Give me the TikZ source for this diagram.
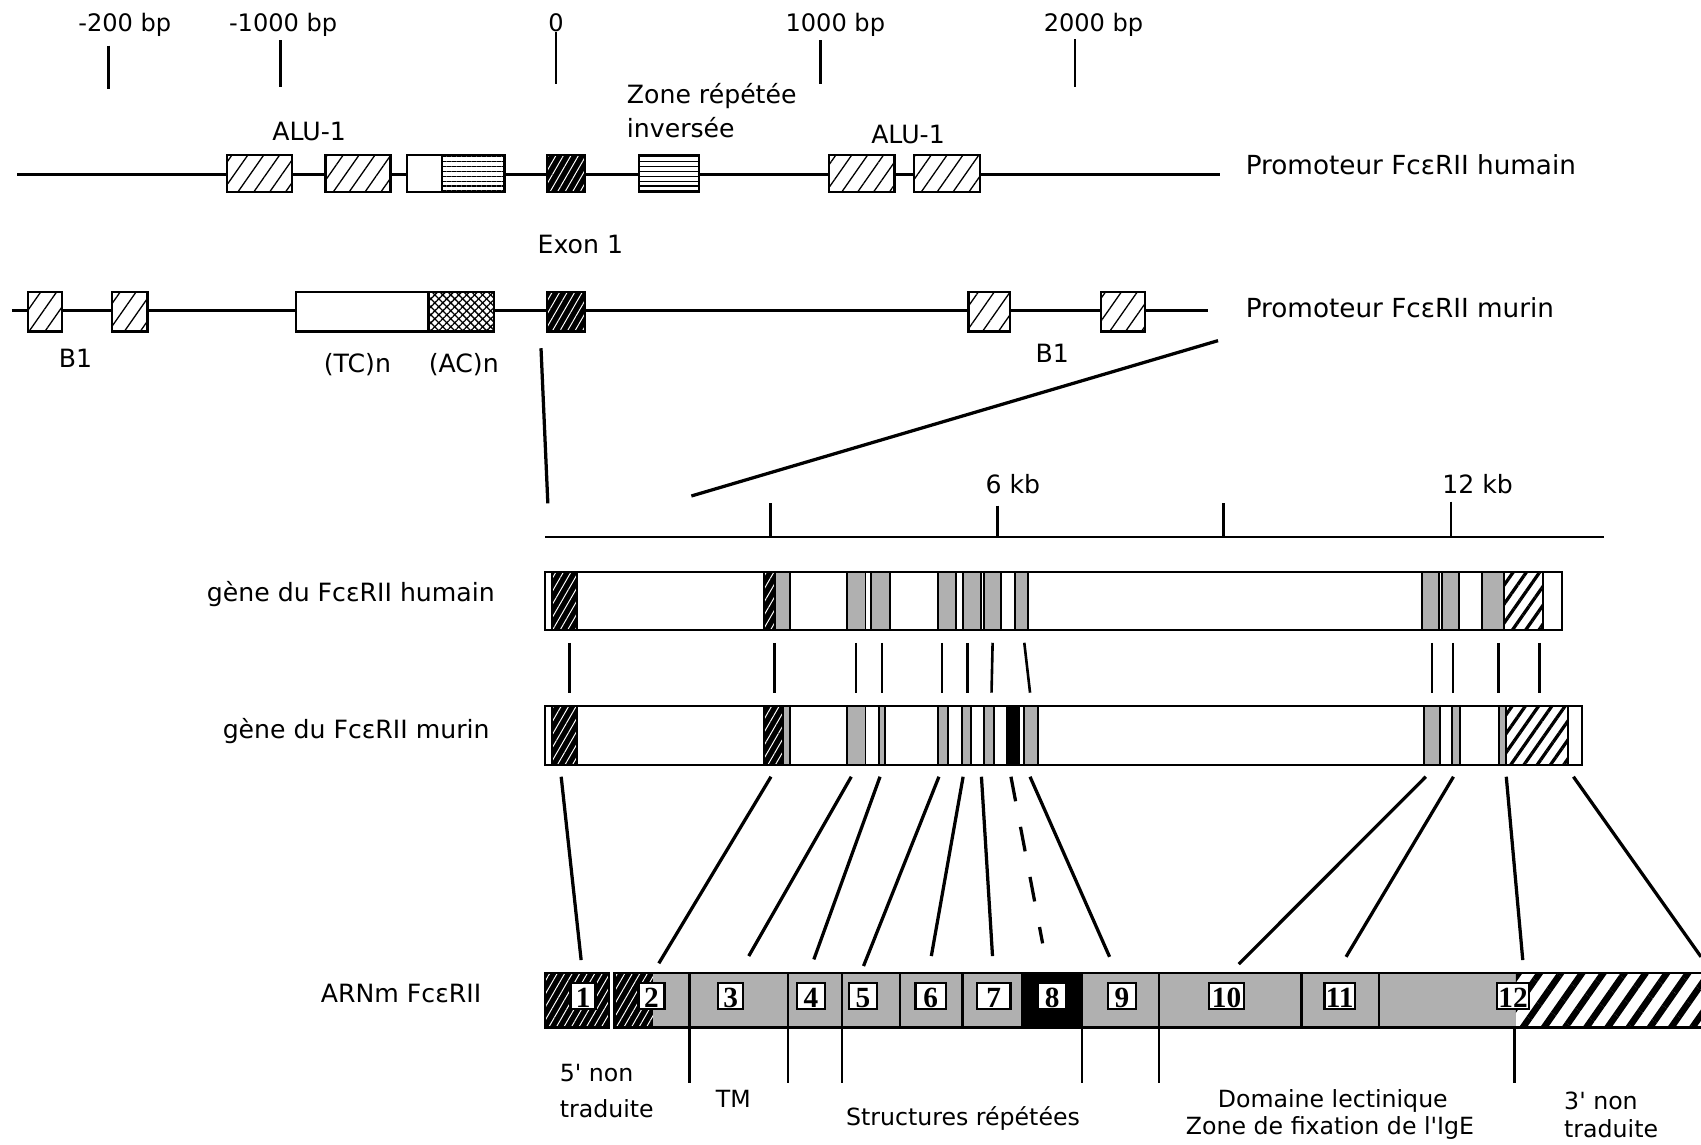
\documentclass[tikz,border=0pt]{standalone}
\usepackage{fontspec}
\newfontfamily\dvs{DejaVu Sans}
\newfontfamily\tms{Liberation Serif}
\usetikzlibrary{patterns.meta}
\colorlet{stip}{black!31}
\tikzset{
  lab/.style={inner sep=0pt, font=\dvs\fontsize{11.6}{14}\selectfont},
  plab/.style={inner sep=0pt, font=\dvs\fontsize{12.1}{14}\selectfont},
  tlab/.style={inner sep=0pt, font=\dvs\fontsize{11.1}{14}\selectfont},
  slab/.style={inner sep=0pt, font=\dvs\fontsize{10.9}{13}\selectfont},
  tickline/.style={line width=1.2pt},
  cline/.style={line width=1.5pt},
  dna/.style={line width=1.3pt},
  hbox/.style={draw, line width=1pt, preaction={fill=white}, pattern={Lines[angle=55,distance=6pt,line width=0.6pt]}},
  lbox/.style={draw, line width=1pt, preaction={fill=white}, pattern={Lines[angle=0,distance=2.3pt,line width=0.8pt]}},
  xbox/.style={draw, line width=1pt, preaction={fill=white}, postaction={pattern={Lines[angle=45,distance=2.6pt,line width=0.6pt]}}, pattern={Lines[angle=-45,distance=2.6pt,line width=0.6pt]}},
  dbox/.style={draw, line width=1pt, preaction={fill=black}, pattern={Lines[angle=60,distance=3pt,line width=0.45pt]}, pattern color=white},
  dfill/.style={preaction={fill=black}, pattern={Lines[angle=60,distance=3pt,line width=0.45pt]}, pattern color=white},
  wbox/.style={draw, line width=1pt, fill=white},
  gex/.style={draw, line width=0.9pt, fill=stip},
  bex/.style={draw, line width=0.9pt, fill=black},
  genebox/.style={draw, line width=1.1pt},
  stripe/.style={draw, line width=0.9pt, preaction={fill=white}, pattern={Lines[angle=55,distance=5pt,line width=1.5pt]}},
  bigstripe/.style={preaction={fill=white}, pattern={Lines[angle=55,distance=8pt,line width=3pt]}},
  mex/.style={draw, line width=1.2pt, fill=stip},
  mbl/.style={draw, line width=1.2pt, fill=black},
  mout/.style={draw, line width=1.2pt},
  numbox/.style={draw, line width=1.1pt, fill=white, inner sep=0pt, minimum height=12pt},
  num/.style={inner sep=0pt, font=\tms\bfseries\fontsize{13.5}{13.5}\selectfont, anchor=base},
}
\newcommand\exnum[4]{%
  \node[numbox, minimum width=#2] (nb#3) at (#1,918) {};
  \node[num] (nt#3) at (#1,929) {#4};}
\begin{document}
\begin{tikzpicture}[x=0.5pt,y=-0.5pt]
\useasboundingbox (0,0) rectangle (1568,1055);
\clip (0,0) rectangle (1568,1055);
\fill[white] (0,0) rectangle (1568,1055);

% ---------- top bp scale ----------
\node[tlab] (t200) at (115,23) {-200 bp};
\node[tlab] (t1000) at (261,23) {-1000 bp};
\node[tlab] (t0) at (512.5,21) {0};
\node[tlab] (tp1000) at (770,23) {1000 bp};
\node[tlab] (tp2000) at (1008,23) {2000 bp};
\draw[tickline] (100,42) -- (100,82);
\draw[tickline] (258.5,37) -- (258.5,80);
\draw[tickline] (t0.south) -- (512.5,77);
\draw[tickline] (756.5,37) -- (756.5,77);
\draw[tickline] (991,36) -- (991,80);

% ---------- human promoter ----------
\draw[dna] (16,161) -- (1125,161);
\path[hbox] (209,143) rectangle (269,177);
\path[hbox] (300,143) rectangle (360,177);
\path[wbox] (375,143) rectangle (407.5,177);
\path[lbox] (407.5,143) rectangle (465,177);
\path[dbox] (504,143) rectangle (539,177);
\path[lbox] (589,143) rectangle (644,177);
\path[hbox] (764,143) rectangle (824.5,177);
\path[hbox] (842.5,143) rectangle (903.5,177);
\node[lab] (alu1) at (285,121) {ALU-1};
\node[lab] (alu2) at (837,124) {ALU-1};
\node[lab, anchor=west] (zone1) at (577.5,89) {Zone répétée};
\node[lab, anchor=west] (zone2) at (577.5,118) {inversée};
\node[lab] (exon1) at (535,225) {Exon 1};
\node[plab, anchor=west] (promH) at (1148,152) {Promoteur FcεRII humain};

% ---------- murine promoter ----------
\draw[dna] (11,286) -- (1113.5,286);
\path[hbox] (26,269.5) rectangle (57.5,305.5);
\path[hbox] (103.5,269.5) rectangle (136,305.5);
\path[wbox] (272.5,269.5) rectangle (395,305.5);
\path[xbox] (395,269.5) rectangle (455,305.5);
\path[dbox] (504,269.5) rectangle (539,305.5);
\path[hbox] (892.7,269.5) rectangle (931.2,305.5);
\path[hbox] (1015.2,269.5) rectangle (1055.3,305.5);
\node[lab] (b1a) at (69.5,330) {B1};
\node[lab] (tcn) at (329.5,336.5) {(TC)n};
\node[lab] (acn) at (427.5,336.5) {(AC)n};
\node[lab] (b1b) at (970,326) {B1};
\node[plab, anchor=west] (promM) at (1148,284) {Promoteur FcεRII murin};

% ---------- zoom lines ----------
\draw[cline] (498.7,321) -- (505,464);
\draw[cline] (1122.8,314) -- (637.3,457.2);

% ---------- kb scale ----------
\draw[dna] (502.5,495) -- (1478.6,495);
\draw[tickline] (710,464) -- (710,495);
\draw[tickline] (919.5,466) -- (919.5,495);
\draw[tickline] (1128,464) -- (1128,495);
\draw[tickline] (1337.5,462.5) -- (1337.5,495);
\node[lab] (kb6) at (933.6,446) {6 kb};
\node[lab] (kb12) at (1362,446) {12 kb};

% ---------- human gene ----------
\path[genebox, fill=white] (502.5,527) rectangle (1439.8,581);
\path[dbox] (508.5,527) rectangle (531.5,581);
\path[dbox] (704.3,527) rectangle (714.2,581);
\path[gex] (714.2,527) rectangle (728,581);
\path[gex] (781.2,527) rectangle (797.8,581);
\path[gex] (803.1,527) rectangle (820,581);
\path[gex] (864.8,527) rectangle (881.4,581);
\path[gex] (887.8,527) rectangle (904.7,581);
\path[gex] (907,527) rectangle (923,581);
\path[gex] (935.4,527) rectangle (947.7,581);
\path[gex] (1310.8,527) rectangle (1326.7,581);
\path[gex] (1329.5,527) rectangle (1345.1,581);
\path[gex] (1366.3,527) rectangle (1386.1,581);
\path[stripe] (1386.1,527) rectangle (1422.1,581);
\path[genebox] (502.5,527) rectangle (1439.8,581);
\node[lab, anchor=east] (geneH) at (456.5,548) {gène du FcεRII humain};

% ---------- murine gene ----------
\path[genebox, fill=white] (502.5,651) rectangle (1458.5,705);
\path[dbox] (508.5,651) rectangle (531.5,705);
\path[dbox] (704.3,651) rectangle (722,705);
\path[gex] (722,651) rectangle (728,705);
\path[gex] (781.2,651) rectangle (797.8,705);
\path[gex] (810,651) rectangle (815.5,705);
\path[gex] (864.8,651) rectangle (873.6,705);
\path[gex] (887,651) rectangle (895,705);
\path[gex] (907.1,651) rectangle (916,705);
\path[bex] (928.3,651) rectangle (938.9,705);
\path[gex] (944.2,651) rectangle (956.5,705);
\path[gex] (1312.6,651) rectangle (1327.4,705);
\path[gex] (1338.4,651) rectangle (1346.1,705);
\path[gex] (1381.5,651) rectangle (1388.5,705);
\path[stripe] (1388.5,651) rectangle (1445.8,705);
\path[genebox] (502.5,651) rectangle (1458.5,705);
\node[lab, anchor=east] (geneM) at (451.7,674) {gène du FcεRII murin};

% ---------- human-murine correspondences ----------
\foreach \a/\b in {525/525, 714.2/714.2, 789/789, 813/813, 868.4/868.4, 892/892, 915/914, 944.2/949.5, 1320/1320, 1339.4/1339.4, 1381.5/1381.5, 1419.3/1419.3}
  \draw[tickline] (\a,592.5) -- (\b,638.5);

% ---------- murine gene to mRNA ----------
\foreach \a/\b/\c in {517.3/535.7/885, 710.7/607.3/888, 784.7/690.2/881.3, 811.2/750.2/884.4, 865.5/796/890.5, 887.8/858.5/881.3, 904.7/914.9/881.3, 949.5/1022.8/882, 1314.3/1141.9/888.7, 1339.8/1240.8/882, 1388.5/1403.7/885, 1450.4/1568/882}
  \draw[cline] (\a,716) -- (\b,\c);
\draw[cline, dash pattern=on 11.5pt off 12pt] (931.9,716) -- (961.1,869.6);

% ---------- mRNA ----------
\path[dbox, line width=1.2pt] (502.5,897) rectangle (561.4,947);
\path[fill=stip] (566.7,897) rectangle (635.5,947);
\path[dfill] (566.7,897) rectangle (602,947);
\path[mout] (566.7,897) rectangle (635.5,947);
\path[mex] (635.5,897) rectangle (726.5,947);
\path[mex] (726.5,897) rectangle (776,947);
\path[mex] (776,897) rectangle (829.5,947);
\path[mex] (829.5,897) rectangle (887,947);
\path[mex] (887,897) rectangle (942.4,947);
\path[mbl] (942.4,897) rectangle (997.5,947);
\path[mex] (997.5,897) rectangle (1068.5,947);
\path[mex] (1068.5,897) rectangle (1199.5,947);
\path[mex] (1199.5,897) rectangle (1271,947);
\path[fill=stip] (1271,897) rectangle (1397.4,947);
\path[bigstripe] (1397.4,897) rectangle (1600,947);
\path[mout] (1271,897) rectangle (1600,947);

\exnum{537.5}{11.5pt}{1}{1}
\exnum{600.6}{12pt}{2}{2}
\exnum{673.5}{11.5pt}{3}{3}
\exnum{747.5}{13pt}{4}{4}
\exnum{795.5}{13pt}{5}{5}
\exnum{857.9}{14pt}{6}{6}
\exnum{916}{15.5pt}{7}{7}
\exnum{969.8}{13pt}{8}{8}
\exnum{1034.3}{13pt}{9}{9}
\exnum{1130.6}{16pt}{10}{10}
\exnum{1234.9}{14pt}{11}{11}
\exnum{1394.7}{15pt}{12}{12}

\node[lab, anchor=east] (arnm) at (444,916) {ARNm FcεRII};

% ---------- domain ticks ----------
\foreach \x in {635.5, 726.5, 776, 997.5, 1068.5, 1396}
  \draw[tickline] (\x,947) -- (\x,998.5);

% ---------- bottom labels ----------
\node[slab, anchor=west] (n5a) at (515.6,989.4) {5' non};
\node[slab, anchor=west] (n5b) at (515.6,1022) {traduite};
\node[slab] (tm) at (676,1012.5) {TM};
\node[slab] (rep) at (887.7,1031) {Structures répétées};
\node[slab] (lec) at (1228.6,1014.5) {Domaine lectinique};
\node[slab] (fix) at (1226,1040) {Zone de fixation de l'IgE};
\node[slab, anchor=west] (n3a) at (1441.5,1014.5) {3' non};
\node[slab, anchor=west] (n3b) at (1441.5,1040) {traduite};
\end{tikzpicture}
\end{document}
